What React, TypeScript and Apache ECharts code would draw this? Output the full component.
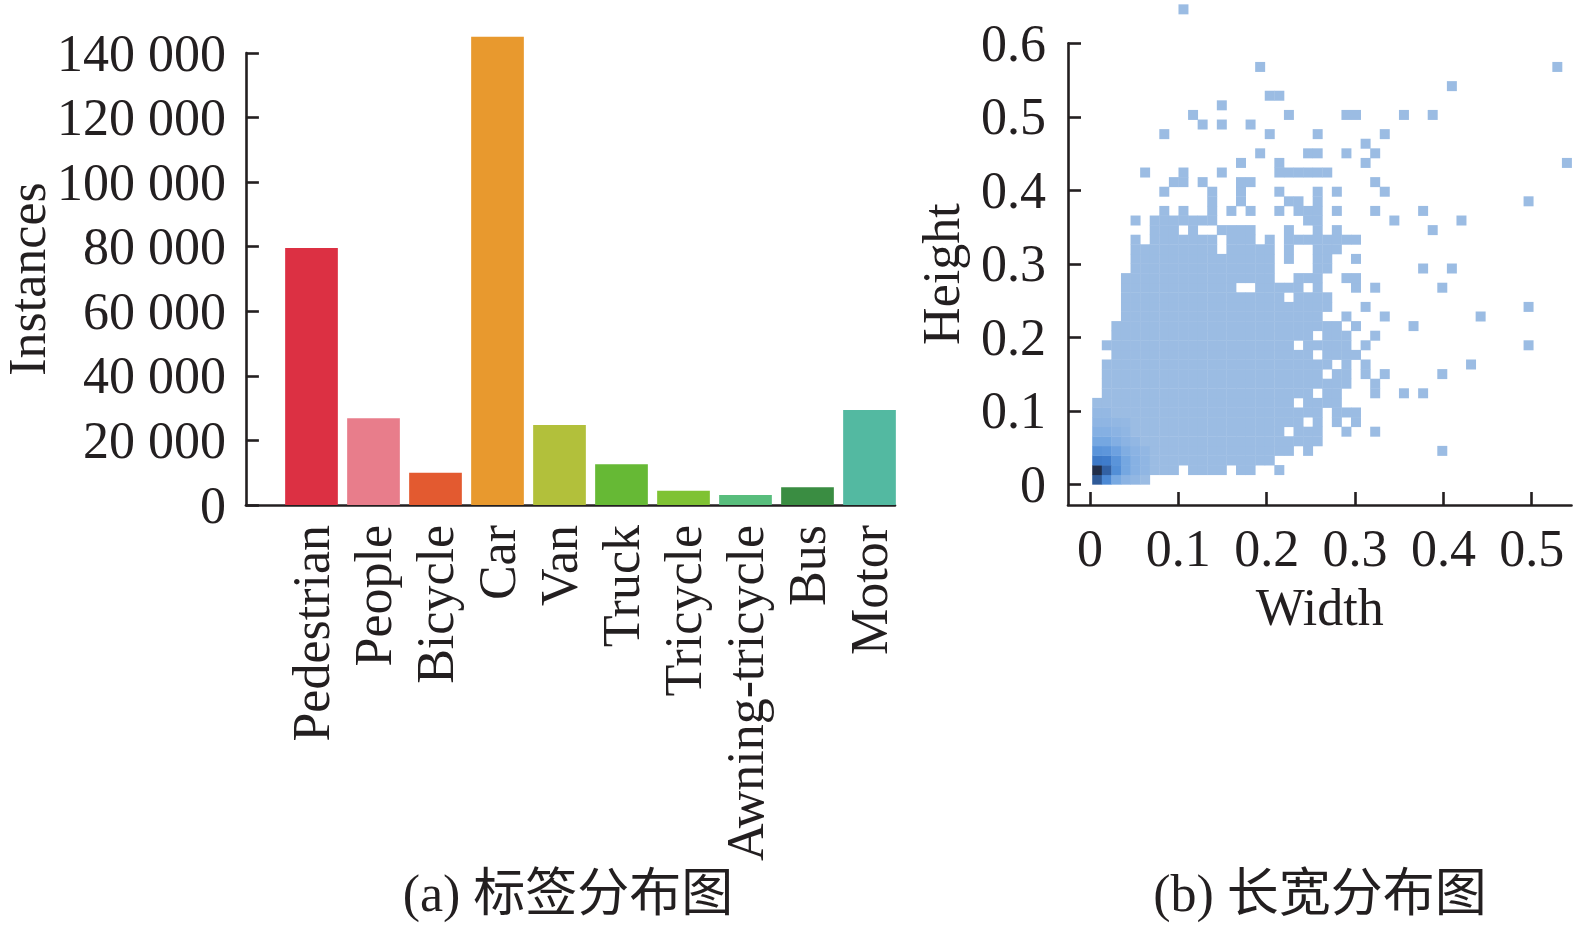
import React, { useEffect, useRef } from "react";
import * as echarts from "echarts";

// ---------- (a) label distribution ----------
const CATEGORIES = [
  "Pedestrian",
  "People",
  "Bicycle",
  "Car",
  "Van",
  "Truck",
  "Tricycle",
  "Awning-tricycle",
  "Bus",
  "Motor",
];
const INSTANCES = [79600, 26900, 10000, 145000, 24800, 12600, 4400, 3100, 5500, 29400];
const BAR_COLORS = [
  "#dc3043",
  "#e87d8b",
  "#e35a30",
  "#e8992e",
  "#b2c03b",
  "#66b935",
  "#7fc233",
  "#58bd7c",
  "#3a8d42",
  "#53b9a1",
];
const INSTANCE_MAX = 140000;
const INSTANCE_STEP = 20000;

// ---------- (b) width / height distribution (2D histogram) ----------
const WIDTH_TICKS = [0, 0.1, 0.2, 0.3, 0.4, 0.5];
const HEIGHT_TICKS = [0, 0.1, 0.2, 0.3, 0.4, 0.5, 0.6];
const WIDTH_BIN_START = 0.0025;
const WIDTH_BIN_SIZE = 0.01085;
const HEIGHT_BIN_START = 0;
const HEIGHT_BIN_SIZE = 0.01306;

// occupied bins, per height-bin row (index = height bin), as runs [firstWidthBin, lastWidthBin]
const OCCUPIED_BINS: number[][][] = [
  [[0, 5]],
  [[0, 8], [10, 13], [15, 16], [19, 19]],
  [[0, 18]],
  [[0, 20], [22, 22], [36, 36]],
  [[0, 23]],
  [[0, 19], [21, 23], [26, 26], [29, 29]],
  [[0, 21], [23, 23], [25, 25], [27, 27]],
  [[0, 23], [25, 27]],
  [[0, 20], [22, 25]],
  [[1, 22], [24, 25], [29, 29], [32, 32], [34, 34]],
  [[1, 26], [29, 29]],
  [[1, 23], [25, 26], [28, 28], [30, 30], [36, 36]],
  [[1, 24], [26, 26], [28, 28], [39, 39]],
  [[2, 22], [24, 27]],
  [[1, 20], [22, 26], [28, 28], [45, 45]],
  [[2, 22], [24, 26], [29, 29]],
  [[2, 25], [27, 27], [33, 33]],
  [[3, 23], [26, 26], [30, 30], [40, 40]],
  [[3, 24], [28, 28], [45, 45]],
  [[3, 19], [21, 24]],
  [[3, 14], [17, 21], [23, 23], [27, 27], [29, 29], [36, 36]],
  [[3, 18], [21, 23], [26, 27]],
  [[4, 18], [23, 24], [34, 34], [37, 37]],
  [[4, 18], [20, 20], [23, 24], [27, 27]],
  [[4, 12], [14, 18], [20, 20], [23, 25]],
  [[4, 4], [6, 12], [14, 16], [18, 18], [20, 27]],
  [[6, 8], [10, 10], [13, 16], [20, 20], [23, 23], [25, 25], [35, 35]],
  [[4, 4], [6, 12], [22, 23], [31, 31], [38, 38]],
  [[7, 7], [9, 9], [12, 12], [14, 14], [16, 16], [19, 19], [21, 23], [25, 25], [29, 29], [34, 34]],
  [[12, 12], [15, 15], [20, 21], [23, 23], [45, 45]],
  [[7, 7], [12, 12], [15, 15], [19, 19], [23, 23], [25, 25], [30, 30]],
  [[8, 9], [11, 11], [15, 16], [29, 29]],
  [[5, 5], [9, 9], [13, 13], [19, 24]],
  [[15, 15], [19, 19], [28, 28], [49, 49]],
  [[17, 17], [22, 23], [26, 26], [29, 29]],
  [[28, 28]],
  [[7, 7], [18, 18], [23, 23], [30, 30]],
  [[11, 11], [13, 13], [16, 16]],
  [[10, 10], [20, 20], [26, 27], [32, 32], [35, 35]],
  [[13, 13]],
  [[18, 19]],
  [[37, 37]],
  [],
  [[17, 17], [48, 48]],
  [],
  [],
  [],
  [],
  [],
  [[9, 9]],
];

// relative counts of the dense bins near the origin: [widthBin, heightBin, count]
const DENSE_BINS: number[][] = [
  [0, 0, 80], [1, 0, 50], [2, 0, 20], [3, 0, 10], [4, 0, 6],
  [0, 1, 100], [1, 1, 76], [2, 1, 45], [3, 1, 22], [4, 1, 12], [5, 1, 7],
  [0, 2, 62], [1, 2, 60], [2, 2, 40], [3, 2, 22], [4, 2, 12], [5, 2, 7],
  [0, 3, 40], [1, 3, 38], [2, 3, 28], [3, 3, 16], [4, 3, 10], [5, 3, 6],
  [0, 4, 22], [1, 4, 22], [2, 4, 15], [3, 4, 10], [4, 4, 6],
  [0, 5, 13], [1, 5, 13], [2, 5, 10], [3, 5, 7],
  [0, 6, 8], [1, 6, 8], [2, 6, 6], [3, 6, 5],
  [0, 7, 5], [1, 7, 5],
];

const HEAT_COLORS = [
  "#9dbde3",
  "#8bb3e3",
  "#78a9e2",
  "#6a9fdf",
  "#5a94da",
  "#4c89d4",
  "#3f7ccb",
  "#366cb6",
  "#2f5a98",
  "#2a4676",
  "#212e4a",
];

const INK = "#231f20";
const SERIF = "'Liberation Serif', 'Times New Roman', serif";
const CAPTION_FONT = "'Liberation Serif', 'Noto Sans CJK SC', serif";
const FONT_SIZE = 52;

function buildCells(): number[][] {
  const dense = new Map<string, number>();
  DENSE_BINS.forEach(([k, r, v]) => dense.set(`${k}-${r}`, v));
  const cells: number[][] = [];
  OCCUPIED_BINS.forEach((runs, r) => {
    runs.forEach(([a, b]) => {
      for (let k = a; k <= b; k++) {
        const v = dense.get(`${k}-${r}`) ?? 1;
        cells.push([
          WIDTH_BIN_START + k * WIDTH_BIN_SIZE,
          HEIGHT_BIN_START + r * HEIGHT_BIN_SIZE,
          v,
        ]);
      }
    });
  });
  return cells;
}

function fmtInstances(v: number): string {
  if (v === 0) return "0";
  return `${Math.round(v / 1000)} 000`;
}

function fmtFrac(v: number): string {
  if (Math.abs(v) < 1e-9) return "0";
  return (Math.round(v * 10) / 10).toFixed(1);
}

const labelStyle = { fontSize: FONT_SIZE, fontFamily: SERIF, color: INK };
const nameStyle = { fontSize: FONT_SIZE, fontFamily: SERIF, color: INK };
const axisLineStyle = { show: true, onZero: false, lineStyle: { color: INK, width: 2.6 } };

function buildOption(): any {
  const cells = buildCells();

  return {
    animation: false,
    backgroundColor: "#ffffff",
    grid: [
      { left: 280.5, top: 53, width: 620, height: 452 },
      { left: 242, top: 53, width: 653, height: 452 },
      { left: 1068, top: 43.3, width: 503.5, height: 461.7 },
    ],
    xAxis: [
      {
        gridIndex: 0,
        type: "category",
        data: CATEGORIES,
        axisLine: { show: false },
        axisTick: { show: false },
        axisLabel: { ...labelStyle, rotate: 90, margin: 20, interval: 0 },
        splitLine: { show: false },
      },
      {
        gridIndex: 1,
        type: "value",
        min: 0,
        max: 1,
        axisLine: axisLineStyle,
        axisTick: { show: false },
        axisLabel: { show: false },
        splitLine: { show: false },
      },
      {
        gridIndex: 2,
        type: "value",
        min: -0.0249,
        max: 0.545,
        axisLine: axisLineStyle,
        axisTick: {
          show: true,
          inside: true,
          length: 13,
          customValues: WIDTH_TICKS,
          lineStyle: { color: INK, width: 2.6 },
        },
        axisLabel: { ...labelStyle, margin: 17, customValues: WIDTH_TICKS, formatter: fmtFrac },
        splitLine: { show: false },
        name: "Width",
        nameLocation: "middle",
        nameGap: 76,
        nameTextStyle: nameStyle,
      },
    ],
    yAxis: [
      {
        gridIndex: 0,
        type: "value",
        min: 0,
        max: INSTANCE_MAX,
        show: false,
      },
      {
        gridIndex: 1,
        type: "value",
        min: 0,
        max: INSTANCE_MAX,
        interval: INSTANCE_STEP,
        axisLine: axisLineStyle,
        axisTick: { show: true, inside: true, length: 13, lineStyle: { color: INK, width: 2.6 } },
        axisLabel: { ...labelStyle, margin: 20, formatter: fmtInstances },
        splitLine: { show: false },
        name: "Instances",
        nameLocation: "middle",
        nameGap: 187,
        nameTextStyle: nameStyle,
      },
      {
        gridIndex: 2,
        type: "value",
        min: -0.0282,
        max: 0.6,
        axisLine: axisLineStyle,
        axisTick: {
          show: true,
          inside: true,
          length: 13,
          customValues: HEIGHT_TICKS,
          lineStyle: { color: INK, width: 2.6 },
        },
        axisLabel: { ...labelStyle, margin: 22, customValues: HEIGHT_TICKS, formatter: fmtFrac },
        splitLine: { show: false },
        name: "Height",
        nameLocation: "middle",
        nameGap: 101,
        nameTextStyle: nameStyle,
      },
    ],
    visualMap: {
      show: false,
      type: "continuous",
      seriesIndex: 1,
      dimension: 2,
      min: 0,
      max: 100,
      inRange: { color: HEAT_COLORS },
    },
    series: [
      {
        type: "bar",
        xAxisIndex: 0,
        yAxisIndex: 0,
        clip: false,
        barCategoryGap: "15%",
        data: INSTANCES.map((v, i) => ({ value: v, itemStyle: { color: BAR_COLORS[i] } })),
      },
      {
        type: "custom",
        xAxisIndex: 2,
        yAxisIndex: 2,
        clip: false,
        encode: { x: 0, y: 1 },
        data: cells,
        renderItem: (_params: any, api: any) => {
          const x = api.value(0) as number;
          const y = api.value(1) as number;
          const tl = api.coord([x, y + HEIGHT_BIN_SIZE]);
          const br = api.coord([x + WIDTH_BIN_SIZE, y]);
          return {
            type: "rect",
            shape: {
              x: tl[0],
              y: tl[1],
              width: br[0] - tl[0] + 0.4,
              height: br[1] - tl[1] + 0.4,
            },
            style: { fill: api.visual("color") },
          };
        },
      },
    ],
    graphic: [
      {
        type: "text",
        x: 568,
        y: 893,
        style: {
          text: "(a) 标签分布图",
          fontSize: FONT_SIZE,
          fontFamily: CAPTION_FONT,
          fill: INK,
          align: "center",
          verticalAlign: "middle",
        },
      },
      {
        type: "text",
        x: 1320,
        y: 893,
        style: {
          text: "(b) 长宽分布图",
          fontSize: FONT_SIZE,
          fontFamily: CAPTION_FONT,
          fill: INK,
          align: "center",
          verticalAlign: "middle",
        },
      },
    ],
  };
}

export default function App() {
  const ref = useRef<HTMLDivElement>(null);
  useEffect(() => {
    document.body.style.margin = "0";
    const chart = echarts.init(ref.current as HTMLDivElement, null, { renderer: "svg" });
    chart.setOption(buildOption());
    return () => chart.dispose();
  }, []);
  return <div ref={ref} style={{ width: 1575, height: 934, background: "#fff" }} />;
}
